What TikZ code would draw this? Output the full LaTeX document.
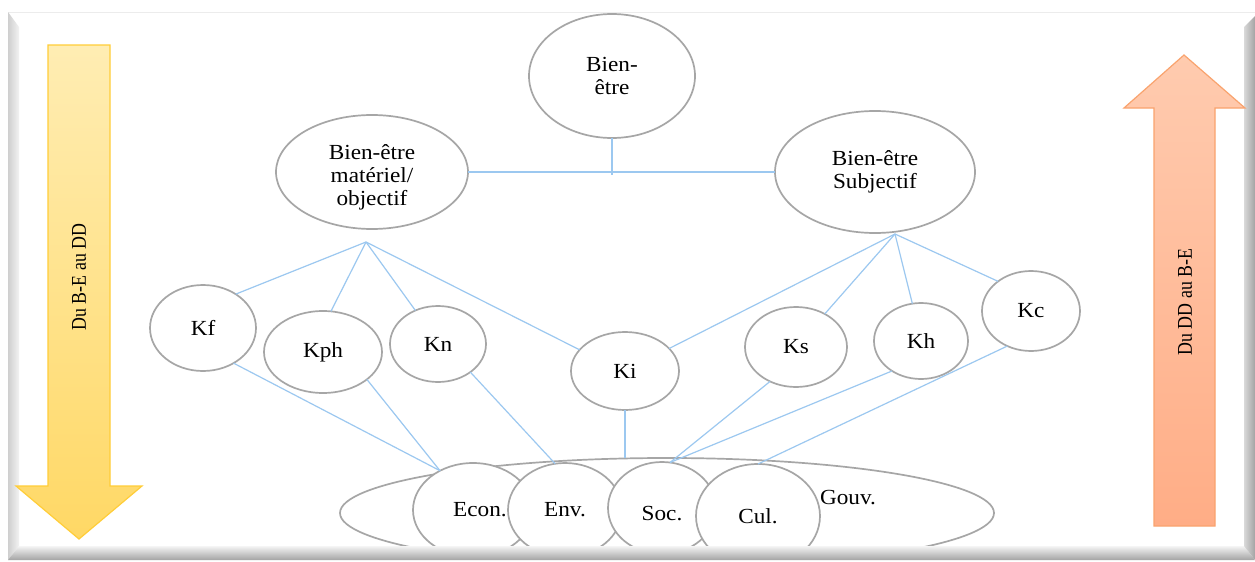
\documentclass[tikz,border=0pt]{standalone}
\usepackage{fontspec}
\setmainfont{Liberation Serif}[FakeStretch=1.08]
\newfontfamily\arrowfont{Liberation Serif}[FakeStretch=0.85]
\usetikzlibrary{shapes.geometric}
\definecolor{edgegray}{HTML}{A6A6A6}
\definecolor{linkblue}{HTML}{9CC8F0}
\definecolor{yellowtop}{HTML}{FFEDB3}
\definecolor{yellowbot}{HTML}{FFD865}
\definecolor{yellowline}{HTML}{FFCD38}
\definecolor{orangetop}{HTML}{FFCBAF}
\definecolor{orangebot}{HTML}{FFAD86}
\definecolor{orangeline}{HTML}{F9A36E}
% lower a node text without changing the box used for centring
\newcommand{\lowertext}[2]{\raisebox{-#1}[\height][\depth]{#2}}
\begin{document}
\begin{tikzpicture}[x=0.5pt,y=-0.5pt,
  bubble/.style={ellipse, draw=edgegray, line width=0.85pt, fill=white,
    inner sep=0pt, outer sep=0pt, align=center,
    font=\fontsize{10.75}{11.5}\selectfont},
  lbl/.style={inner sep=0pt, font=\fontsize{10.75}{11.5}\selectfont},
  arrowtext/.style={inner sep=0pt, rotate=90, font=\arrowfont\fontsize{10.5}{12}\selectfont},
  link/.style={draw=linkblue, line width=0.6pt}]
\useasboundingbox (0,0) rectangle (1255,562);
\fill[white] (0,0) rectangle (1255,562);

% top level
\node[bubble, minimum width=83pt, minimum height=62pt] (top) at (612,76) {Bien-\\être};
\node[bubble, minimum width=96pt, minimum height=57pt] (mat) at (372,172)
  {\lowertext{3pt}{\begin{tabular}{@{}c@{}}Bien-être\\matériel/\\objectif\end{tabular}}};
\node[bubble, minimum width=100pt, minimum height=61pt] (subj) at (875,172) {Bien-être\\Subjectif};

% capitals
\node[bubble, minimum width=53pt, minimum height=43pt] (Kf)  at (203,328) {Kf};
\node[bubble, minimum width=59pt, minimum height=41pt] (Kph) at (323,352) {Kph};
\node[bubble, minimum width=48pt, minimum height=38pt] (Kn)  at (438,344) {Kn};
\node[bubble, minimum width=54pt, minimum height=39pt] (Ki)  at (625,371) {Ki};
\node[bubble, minimum width=51pt, minimum height=40pt] (Ks)  at (796,347) {Ks};
\node[bubble, minimum width=47pt, minimum height=38pt] (Kh)  at (921,341) {Kh};
\node[bubble, minimum width=49pt, minimum height=40pt] (Kc)  at (1031,311) {Kc};

% dimensions of sustainable development
\node[bubble, minimum width=327pt, minimum height=55pt] (Gouv) at (667,513) {};
\node[lbl] (gouvlbl) at (848,498) {Gouv.};
\node[bubble, minimum width=60pt, minimum height=47pt] (Econ) at (473,510) {\hspace*{7pt}Econ.};
\node[bubble, minimum width=57pt, minimum height=47pt] (Env)  at (565,510) {Env.};
\node[bubble, minimum width=54pt, minimum height=46pt] (Soc)  at (662,508) {\lowertext{3pt}{Soc.}};
\node[bubble, minimum width=62pt, minimum height=52pt] (Cul)  at (758,516) {Cul.};

% connectors
\coordinate (hubL) at (366,242);
\coordinate (hubR) at (895,234);
\draw[link] (mat.east) -- (subj.west);
\draw[link] (top.south) -- (top.south |- 0,175);
\draw[link] (hubL) -- (Kf.46);
\draw[link] (hubL) -- (Kph.79);
\draw[link] (hubL) -- (Kn.124);
\draw[link] (hubL) -- (Ki.155);
\draw[link] (hubR) -- (Ki.27);
\draw[link] (hubR) -- (Ks.49);
\draw[link] (hubR) -- (Kh.103);
\draw[link] (hubR) -- (Kc.138);
\draw[link] (Kf.-49) -- (Econ.130);
\draw[link] (Kph.-32) -- (Econ.130);
\draw[link] (Kn.-41) -- (Env.102);
\draw[link] (Ki.south) -- (Ki.south |- Gouv.north);
\draw[link] (Ks.-127) -- (Soc.80);
\draw[link] (Kh.-134) -- (Soc.80);
\draw[link] (Kc.-124) -- (Cul.north);

% bevelled frame
\fill[white] (0,560) rectangle (1255,562);
\draw[gray!15, line width=0.5pt] (8,12) -- (1255,12);
\path[left color=gray!38, right color=gray!10] (8,12) -- (19,27) -- (19,546) -- (8,560) -- cycle;
\path[top color=gray!8, bottom color=gray!72] (8,560) -- (19,546) -- (1244,546) -- (1255,560) -- cycle;
\path[left color=gray!30, right color=gray!72] (1244,27) -- (1255,16) -- (1255,560) -- (1244,546) -- cycle;

% direction arrows
\path[draw=yellowline, line width=0.6pt, top color=yellowtop, bottom color=yellowbot]
  (48,45) -- (110,45) -- (110,486) -- (142,486) -- (79,539) -- (16,486) -- (48,486) -- cycle;
\node[arrowtext] (down) at (79,277) {Du B-E au DD};
\path[draw=orangeline, line width=0.6pt, top color=orangetop, bottom color=orangebot]
  (1154,526) -- (1154,108) -- (1124,108) -- (1184,55) -- (1245,108) -- (1215,108) -- (1215,526) -- cycle;
\node[arrowtext] (up) at (1185,302) {Du DD au B-E};
\end{tikzpicture}
\end{document}
